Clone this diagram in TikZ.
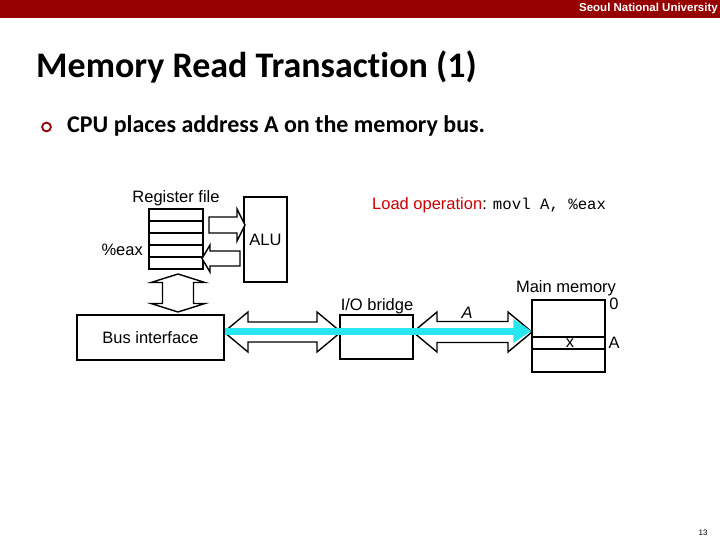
\documentclass[tikz,border=0pt]{standalone}
\usepackage{fontspec}
\setmainfont{Liberation Sans}
\newfontfamily\calfont[Ligatures=NoCommon]{Carlito}
\newfontfamily\monofont{Liberation Mono}
\definecolor{snured}{RGB}{150,0,0}
\definecolor{loadred}{RGB}{204,0,0}
\definecolor{buscyan}{RGB}{40,230,240}
\newcommand{\hdarrow}[6]{% x1 x2 yc headlen headhalf bodyhalf
  \draw[blockarrow] (#1,#3) -- (#1+#4,#3-#5) -- (#1+#4,#3-#6) -- (#2-#4,#3-#6) -- (#2-#4,#3-#5) -- (#2,#3)
   -- (#2-#4,#3+#5) -- (#2-#4,#3+#6) -- (#1+#4,#3+#6) -- (#1+#4,#3+#5) -- cycle;}
\newcommand{\vdarrow}[6]{% y1 y2 xc headlen headhalf bodyhalf
  \draw[blockarrow] (#3,#1) -- (#3-#5,#1+#4) -- (#3-#6,#1+#4) -- (#3-#6,#2-#4) -- (#3-#5,#2-#4) -- (#3,#2)
   -- (#3+#5,#2-#4) -- (#3+#6,#2-#4) -- (#3+#6,#1+#4) -- (#3+#5,#1+#4) -- cycle;}
\newcommand{\hsarrow}[6]{% tail tip yc headlen(signed) headhalf bodyhalf
  \draw[blockarrow] (#1,#3-#6) -- (#2-#4,#3-#6) -- (#2-#4,#3-#5) -- (#2,#3) -- (#2-#4,#3+#5) -- (#2-#4,#3+#6) -- (#1,#3+#6) -- cycle;}
\tikzset{
  box/.style={draw, line width=1.4pt, inner sep=0pt, fill=white},
  blockarrow/.style={draw, fill=white, line width=1.4pt, line join=miter},
  lbl/.style={font=\fontsize{16.5}{18}\selectfont, inner sep=0pt},
}
\begin{document}
\begin{tikzpicture}[x=1pt,y=-1pt]
\useasboundingbox (0,0) rectangle (720,540);
% header
\fill[snured] (0,0) rectangle (720,18);
\node[anchor=base east, text=white, font=\bfseries\fontsize{11.5}{13}\selectfont, inner sep=0pt] (uni) at (718,12) {Seoul National University};
% title
\node[anchor=base west, inner sep=0pt, font=\calfont\bfseries\fontsize{36}{40}\selectfont] (title) at (36,78) {Memory Read Transaction (1)};
\draw[snured, line width=1.8pt] (46.5,127) circle (4.4);
\node[anchor=base west, inner sep=0pt, font=\calfont\bfseries\fontsize{24}{28}\selectfont] (bullet) at (67,133) {CPU places address A on the memory bus.};
% boxes
\node[box, minimum width=54pt, minimum height=60pt] (rf) at (176,239) {};
\foreach \yy in {221,233,245,257} \draw[line width=1.2pt] (149,\yy) -- (203,\yy);
\node[box, minimum width=43pt, minimum height=85pt, lbl] (alu) at (265.5,239.5) {ALU};
\node[box, minimum width=147pt, minimum height=45pt, lbl] (bi) at (150.5,337.5) {Bus interface};
\node[box, minimum width=73pt, minimum height=44pt] (iob) at (376.5,337) {};
\node[box, minimum width=73pt, minimum height=72pt] (mm) at (568.5,336) {};
\draw[line width=1.2pt] (532,337) -- (605,337);
\draw[line width=1.2pt] (532,349) -- (605,349);
% labels
\node[lbl, anchor=base] (rflbl) at (176,203) {Register file};
\node[lbl, anchor=base east] (eax) at (143,255) {\%eax};
\node[lbl, anchor=base] (ioblbl) at (377,310) {I/O bridge};
\node[lbl, anchor=base] (mmlbl) at (566,292) {Main memory};
\node[lbl, anchor=base] (zero) at (614,309) {0};
\node[lbl, anchor=base] (addrA) at (614,348) {A};
\node[lbl, anchor=base] (xval) at (570,347) {x};
\node[lbl, anchor=base, font=\itshape\fontsize{16.5}{18}\selectfont] (busA) at (467,318) {A};
\node[anchor=base west, inner sep=0pt] (load) at (372,210) {\textcolor{loadred}{\fontsize{16.5}{18}\selectfont Load operation}\fontsize{16.5}{18}\selectfont: \monofont\fontsize{15.7}{18}\selectfont movl A, \%eax};
\node[anchor=base, inner sep=0pt, font=\fontsize{8}{9}\selectfont] (page) at (703,535) {13};
% block arrows
\hsarrow{209}{245}{225}{8}{16}{8}
\hsarrow{240}{202}{258.5}{-8}{13.5}{7.5}
\vdarrow{274}{312}{178}{8.5}{27}{15.5}
\hdarrow{224}{341}{332}{24}{20}{10}
\hdarrow{413}{532}{332}{24}{20}{10.5}
% cyan bus flow
\coordinate (cstart) at (bi.east |- 0,331);
\coordinate (cend) at (mm.west |- 0,331);
\draw[buscyan, line width=7pt] (cstart) -- ([xshift=-17pt]cend);
\fill[buscyan] ([xshift=-18pt,yshift=12pt]cend) -- (cend) -- ([xshift=-18pt,yshift=-12pt]cend) -- cycle;
\end{tikzpicture}
\end{document}
